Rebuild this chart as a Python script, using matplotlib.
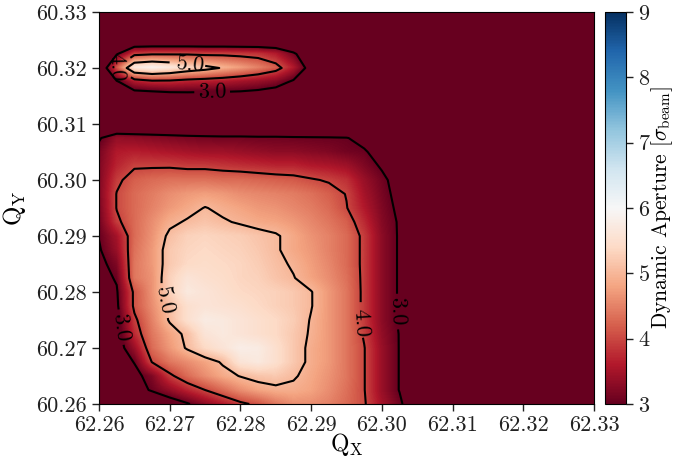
import numpy as np
import matplotlib

matplotlib.use("Agg")
import matplotlib.pyplot as plt
from matplotlib.ticker import FormatStrFormatter, MultipleLocator

plt.rcParams["font.family"] = "serif"
plt.rcParams["font.serif"] = ["cmr10", "DejaVu Serif"]
plt.rcParams["mathtext.fontset"] = "cm"
plt.rcParams["axes.formatter.use_mathtext"] = True

# tune scan grid (step 0.0025 in both planes)
qx = [62.26, 62.2625, 62.265, 62.2675, 62.27, 62.2725, 62.275, 62.2775, 62.28, 62.2825,
      62.285, 62.2875, 62.29, 62.2925, 62.295, 62.2975, 62.30, 62.3025, 62.305, 62.3075,
      62.31, 62.3125, 62.315, 62.3175, 62.32, 62.3225, 62.325, 62.3275, 62.33]
qy = [60.26, 60.2625, 60.265, 60.2675, 60.27, 60.2725, 60.275, 60.2775, 60.28, 60.2825,
      60.285, 60.2875, 60.29, 60.2925, 60.295, 60.2975, 60.30, 60.3025, 60.305, 60.3075,
      60.31, 60.3125, 60.315, 60.3175, 60.32, 60.3225, 60.325, 60.3275, 60.33]

# dynamic aperture [sigma], one row per qy value (bottom to top)
da = [
    [2.2, 2.3, 2.4, 2.5, 2.7, 2.95, 3.3, 3.6, 3.9, 4.1, 4.4, 4.6, 4.6, 4.5, 4.3, 4.05, 3.5, 3.1, 2.5, 2.2, 2.2, 2.2, 2.2, 2.2, 2.2, 2.2, 2.2, 2.2, 2.2],
    [2.3, 2.5, 2.8, 3.05, 3.35, 3.7, 4.0, 4.3, 4.6, 4.8, 4.9, 4.9, 4.8, 4.6, 4.35, 4.02, 3.4, 2.98, 2.5, 2.2, 2.2, 2.2, 2.2, 2.2, 2.2, 2.2, 2.2, 2.2, 2.2],
    [2.4, 2.6, 2.85, 3.2, 3.9, 4.3, 4.6, 4.85, 5.02, 5.15, 5.2, 5.05, 4.85, 4.65, 4.4, 4.02, 3.4, 2.98, 2.5, 2.2, 2.2, 2.2, 2.2, 2.2, 2.2, 2.2, 2.2, 2.2, 2.2],
    [2.5, 2.7, 3.02, 4.02, 4.4, 4.6, 4.8, 5.05, 5.6, 5.7, 5.5, 5.2, 4.9, 4.7, 4.4, 4.02, 3.4, 2.98, 2.5, 2.2, 2.2, 2.2, 2.2, 2.2, 2.2, 2.2, 2.2, 2.2, 2.2],
    [2.5, 2.7, 3.4, 4.3, 4.7, 5.05, 5.4, 5.6, 5.8, 5.75, 5.5, 5.2, 4.9, 4.7, 4.4, 4.02, 3.4, 2.98, 2.5, 2.2, 2.2, 2.2, 2.2, 2.2, 2.2, 2.2, 2.2, 2.2, 2.2],
    [2.6, 2.75, 3.75, 4.4, 4.8, 5.1, 5.6, 5.7, 5.6, 5.5, 5.4, 5.2, 4.95, 4.7, 4.4, 3.95, 3.35, 2.98, 2.5, 2.2, 2.2, 2.2, 2.2, 2.2, 2.2, 2.2, 2.2, 2.2, 2.2],
    [2.6, 2.8, 3.9, 4.5, 5.05, 5.5, 5.75, 5.7, 5.6, 5.5, 5.4, 5.25, 4.97, 4.7, 4.4, 3.9, 3.3, 2.95, 2.5, 2.2, 2.2, 2.2, 2.2, 2.2, 2.2, 2.2, 2.2, 2.2, 2.2],
    [2.7, 2.9, 4.1, 4.6, 5.1, 5.5, 5.6, 5.55, 5.5, 5.4, 5.3, 5.2, 5.02, 4.7, 4.4, 3.9, 3.3, 2.95, 2.5, 2.2, 2.2, 2.2, 2.2, 2.2, 2.2, 2.2, 2.2, 2.2, 2.2],
    [2.75, 2.95, 4.1, 4.65, 5.3, 5.7, 5.6, 5.5, 5.4, 5.35, 5.3, 5.2, 5.02, 4.7, 4.4, 3.9, 3.3, 2.95, 2.5, 2.2, 2.2, 2.2, 2.2, 2.2, 2.2, 2.2, 2.2, 2.2, 2.2],
    [2.8, 3.05, 4.4, 4.65, 5.3, 5.6, 5.5, 5.45, 5.35, 5.3, 5.15, 5.02, 4.8, 4.6, 4.35, 3.9, 3.3, 2.95, 2.5, 2.2, 2.2, 2.2, 2.2, 2.2, 2.2, 2.2, 2.2, 2.2, 2.2],
    [2.85, 3.2, 4.4, 4.7, 5.2, 5.4, 5.45, 5.4, 5.35, 5.25, 5.1, 4.95, 4.75, 4.55, 4.3, 3.9, 3.3, 2.95, 2.5, 2.2, 2.2, 2.2, 2.2, 2.2, 2.2, 2.2, 2.2, 2.2, 2.2],
    [2.95, 3.4, 4.35, 4.7, 5.2, 5.35, 5.4, 5.35, 5.3, 5.2, 5.05, 4.85, 4.7, 4.5, 4.3, 3.9, 3.3, 2.95, 2.5, 2.2, 2.2, 2.2, 2.2, 2.2, 2.2, 2.2, 2.2, 2.2, 2.2],
    [3.02, 3.5, 4.3, 4.65, 5.1, 5.3, 5.35, 5.3, 5.25, 5.15, 5.05, 4.85, 4.65, 4.5, 4.3, 3.9, 3.3, 2.95, 2.5, 2.2, 2.2, 2.2, 2.2, 2.2, 2.2, 2.2, 2.2, 2.2, 2.2],
    [3.1, 3.9, 4.3, 4.6, 4.9, 5.05, 5.15, 5.05, 4.95, 4.85, 4.8, 4.7, 4.55, 4.4, 4.2, 3.75, 3.25, 2.95, 2.5, 2.2, 2.2, 2.2, 2.2, 2.2, 2.2, 2.2, 2.2, 2.2, 2.2],
    [3.15, 4.02, 4.3, 4.5, 4.7, 4.85, 5.02, 4.9, 4.8, 4.7, 4.65, 4.55, 4.45, 4.3, 4.02, 3.6, 3.2, 2.9, 2.5, 2.2, 2.2, 2.2, 2.2, 2.2, 2.2, 2.2, 2.2, 2.2, 2.2],
    [3.2, 4.02, 4.3, 4.45, 4.6, 4.7, 4.75, 4.7, 4.6, 4.55, 4.5, 4.45, 4.35, 4.2, 3.98, 3.5, 3.15, 2.85, 2.4, 2.2, 2.2, 2.2, 2.2, 2.2, 2.2, 2.2, 2.2, 2.2, 2.2],
    [3.2, 3.9, 4.2, 4.3, 4.35, 4.35, 4.35, 4.3, 4.3, 4.25, 4.2, 4.15, 4.05, 3.95, 3.8, 3.4, 3.1, 2.8, 2.4, 2.2, 2.2, 2.2, 2.2, 2.2, 2.2, 2.2, 2.2, 2.2, 2.2],
    [3.2, 3.7, 3.95, 3.95, 3.95, 3.9, 3.9, 3.85, 3.8, 3.75, 3.7, 3.7, 3.6, 3.55, 3.45, 3.2, 2.95, 2.7, 2.3, 2.2, 2.2, 2.2, 2.2, 2.2, 2.2, 2.2, 2.2, 2.2, 2.2],
    [3.15, 3.6, 3.65, 3.6, 3.55, 3.5, 3.45, 3.45, 3.4, 3.35, 3.3, 3.3, 3.25, 3.2, 3.1, 3.05, 2.8, 2.5, 2.3, 2.2, 2.2, 2.2, 2.2, 2.2, 2.2, 2.2, 2.2, 2.2, 2.2],
    [2.95, 3.35, 3.3, 3.25, 3.2, 3.15, 3.12, 3.1, 3.1, 3.08, 3.08, 3.06, 3.05, 3.04, 3.02, 2.85, 2.6, 2.4, 2.2, 2.2, 2.2, 2.2, 2.2, 2.2, 2.2, 2.2, 2.2, 2.2, 2.2],
    [2.2, 2.2, 2.2, 2.2, 2.2, 2.2, 2.2, 2.2, 2.2, 2.2, 2.2, 2.2, 2.2, 2.2, 2.2, 2.2, 2.2, 2.2, 2.2, 2.2, 2.2, 2.2, 2.2, 2.2, 2.2, 2.2, 2.2, 2.2, 2.2],
    [2.2, 2.2, 2.2, 2.2, 2.2, 2.2, 2.2, 2.2, 2.2, 2.2, 2.2, 2.2, 2.2, 2.2, 2.2, 2.2, 2.2, 2.2, 2.2, 2.2, 2.2, 2.2, 2.2, 2.2, 2.2, 2.2, 2.2, 2.2, 2.2],
    [2.2, 2.4, 2.6, 2.6, 2.7, 2.75, 2.75, 2.75, 2.75, 2.7, 2.6, 2.4, 2.2, 2.2, 2.2, 2.2, 2.2, 2.2, 2.2, 2.2, 2.2, 2.2, 2.2, 2.2, 2.2, 2.2, 2.2, 2.2, 2.2],
    [2.2, 2.9, 3.6, 3.8, 3.8, 3.7, 3.65, 3.6, 3.5, 3.4, 3.25, 2.9, 2.4, 2.2, 2.2, 2.2, 2.2, 2.2, 2.2, 2.2, 2.2, 2.2, 2.2, 2.2, 2.2, 2.2, 2.2, 2.2, 2.2],
    [2.2, 4.1, 5.7, 5.9, 5.7, 5.4, 5.2, 4.95, 4.75, 4.5, 4.2, 3.6, 2.7, 2.2, 2.2, 2.2, 2.2, 2.2, 2.2, 2.2, 2.2, 2.2, 2.2, 2.2, 2.2, 2.2, 2.2, 2.2, 2.2],
    [2.2, 2.95, 3.85, 3.95, 3.95, 3.95, 3.9, 3.9, 3.85, 3.8, 3.6, 3.1, 2.5, 2.2, 2.2, 2.2, 2.2, 2.2, 2.2, 2.2, 2.2, 2.2, 2.2, 2.2, 2.2, 2.2, 2.2, 2.2, 2.2],
    [2.2, 2.2, 2.2, 2.2, 2.2, 2.2, 2.2, 2.2, 2.2, 2.2, 2.2, 2.2, 2.2, 2.2, 2.2, 2.2, 2.2, 2.2, 2.2, 2.2, 2.2, 2.2, 2.2, 2.2, 2.2, 2.2, 2.2, 2.2, 2.2],
    [2.2, 2.2, 2.2, 2.2, 2.2, 2.2, 2.2, 2.2, 2.2, 2.2, 2.2, 2.2, 2.2, 2.2, 2.2, 2.2, 2.2, 2.2, 2.2, 2.2, 2.2, 2.2, 2.2, 2.2, 2.2, 2.2, 2.2, 2.2, 2.2],
    [2.2, 2.2, 2.2, 2.2, 2.2, 2.2, 2.2, 2.2, 2.2, 2.2, 2.2, 2.2, 2.2, 2.2, 2.2, 2.2, 2.2, 2.2, 2.2, 2.2, 2.2, 2.2, 2.2, 2.2, 2.2, 2.2, 2.2, 2.2, 2.2],
]

contour_levels = [3.0, 4.0, 5.0]
cbar_ticks = [3, 4, 5, 6, 7, 8, 9]
# where the contour values get written
label_spots = [(62.2612, 60.2735), (62.2693, 60.2785), (62.2967, 60.2745),
               (62.3021, 60.2765), (62.2730, 60.3206), (62.2760, 60.3157),
               (62.2622, 60.3205)]

z = np.array(da)
dx = qx[1] - qx[0]
dy = qy[1] - qy[0]

fig = plt.figure(figsize=(6.75, 4.58), dpi=100)
ax = fig.add_axes([0.1467, 0.1179, 0.7333, 0.8559])
cax = fig.add_axes([0.8963, 0.1179, 0.0311, 0.8559])

im = ax.imshow(
    z,
    origin="lower",
    extent=[qx[0] - dx / 2, qx[-1] + dx / 2, qy[0] - dy / 2, qy[-1] + dy / 2],
    aspect="auto",
    cmap="RdBu",
    vmin=3,
    vmax=9,
    interpolation="bilinear",
    interpolation_stage="data",
)
cs = ax.contour(qx, qy, z, levels=contour_levels, colors="k", linewidths=1.5)
ax.clabel(cs, fmt="%.1f", fontsize=16, inline=True, inline_spacing=3, manual=label_spots)

ax.set_xlim(qx[0], qx[-1])
ax.set_ylim(qy[0], qy[-1])
ax.xaxis.set_major_locator(MultipleLocator(0.01))
ax.yaxis.set_major_locator(MultipleLocator(0.01))
ax.xaxis.set_major_formatter(FormatStrFormatter("%.2f"))
ax.yaxis.set_major_formatter(FormatStrFormatter("%.2f"))
ax.tick_params(direction="out", length=5, width=1, labelsize=16, colors="#222222")
ax.set_xlabel(r"$\mathrm{Q_X}$", fontsize=17, labelpad=-3)
ax.set_ylabel(r"$\mathrm{Q_Y}$", fontsize=18, labelpad=6)

cb = fig.colorbar(im, cax=cax, ticks=cbar_ticks)
cb.ax.tick_params(direction="out", length=5, width=1, labelsize=16, colors="#222222")
cb.outline.set_linewidth(0.8)
cb.set_label(r"Dynamic Aperture [$\sigma_{\rm beam}$]", fontsize=15.5, labelpad=-1)

fig.savefig("out.png", dpi=100)
plt.close(fig)
